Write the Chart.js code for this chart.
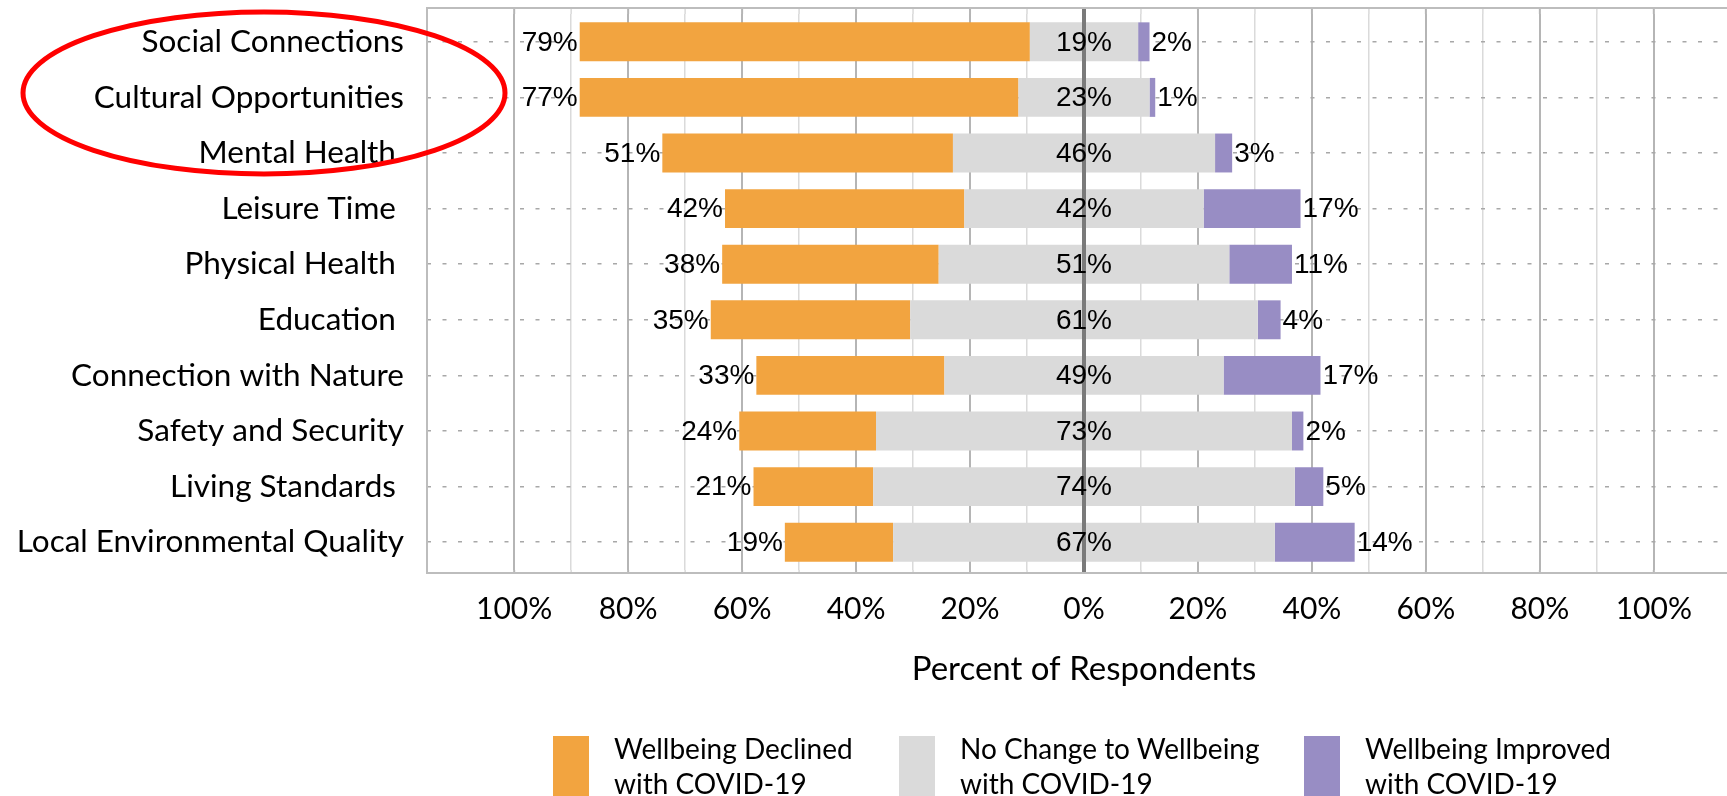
<!DOCTYPE html>
<html>
<head>
<meta charset="utf-8">
<script src="https://cdn.jsdelivr.net/npm/chart.js@4.4.0/dist/chart.umd.min.js"></script>
<style>
	html, body { margin: 0; padding: 0; background: #fff; overflow: hidden; }
	#wrap { position: relative; width: 1748px; height: 796px; }
	.swatch { position: absolute; top: 736px; width: 36px; height: 62px; }
	.legendText { position: absolute; top: 731px; font-family: Lato, sans-serif; font-size: 28px; line-height: 35px; color: #000; white-space: nowrap; }
</style>
</head>
<body>
<div id="wrap">
	<canvas id="wellbeingChart"></canvas>
	<div id="legend"></div>
</div>
<script>
const categories = ['Social Connections', 'Cultural Opportunities', 'Mental Health ', 'Leisure Time ', 'Physical Health ', 'Education ', 'Connection with Nature', 'Safety and Security', 'Living Standards ', 'Local Environmental Quality']
const declined = [79, 77, 51, 42, 38, 35, 33, 24, 21, 19]
const noChange = [19, 23, 46, 42, 51, 61, 49, 73, 74, 67]
const improved = [2, 1, 3, 17, 11, 4, 17, 2, 5, 14]

const seriesNames = [['Wellbeing Declined', 'with COVID-19'], ['No Change to Wellbeing', 'with COVID-19'], ['Wellbeing Improved', 'with COVID-19']]
const seriesColors = ['#f2a440', '#dadada', '#988dc4']

const gridValues = [-100, -90, -80, -70, -60, -50, -40, -30, -20, -10, 0, 10, 20, 30, 40, 50, 60, 70, 80, 90, 100]
const axisTickValues = [-100, -80, -60, -40, -20, 0, 20, 40, 60, 80, 100]
const axisTickLabels = ['100%', '80%', '60%', '40%', '20%', '0%', '20%', '40%', '60%', '80%', '100%']

const gridColor = v => v === 0 ? '#7a7a7a' : (v % 20 === 0 ? '#b5b5b5' : '#dadada')
const gridWidth = v => v === 0 ? 4 : (v % 20 === 0 ? 2 : 1.5)

// the frame sits a little outside the category band, like the original
const frameAndCircle = {
	id: 'frameAndCircle',
	beforeDatasetsDraw(chart) {
		const { ctx, chartArea } = chart
		const x = chart.scales.x
		const top = chartArea.top - 6
		const bottom = chartArea.bottom + 3
		ctx.save()
		gridValues.forEach(v => {
			const px = x.getPixelForValue(v)
			ctx.strokeStyle = gridColor(v)
			ctx.lineWidth = gridWidth(v)
			ctx.beginPath()
			ctx.moveTo(px, top)
			ctx.lineTo(px, chartArea.top)
			ctx.moveTo(px, chartArea.bottom)
			ctx.lineTo(px, bottom)
			ctx.stroke()
		})
		ctx.strokeStyle = '#bdbdbd'
		ctx.lineWidth = 2
		ctx.strokeRect(chartArea.left, top, chartArea.right - chartArea.left, bottom - top)
		ctx.restore()
	},
	afterDraw(chart) {
		const ctx = chart.ctx
		ctx.save()
		ctx.strokeStyle = '#ff0000'
		ctx.lineWidth = 5
		ctx.beginPath()
		ctx.ellipse(264, 93, 241, 81, 0, 0, Math.PI * 2)
		ctx.stroke()
		ctx.restore()
	}
}

const barLabels = {
	id: 'barLabels',
	afterDatasetsDraw(chart) {
		const ctx = chart.ctx
		const zero = chart.scales.x.getPixelForValue(0)
		const left = chart.getDatasetMeta(1).data
		const right = chart.getDatasetMeta(3).data
		ctx.save()
		ctx.font = '28px "Liberation Sans", Arial, sans-serif'
		ctx.fillStyle = '#000'
		ctx.textBaseline = 'middle'
		categories.forEach((c, i) => {
			const d = left[i]
			const p = right[i]
			ctx.textAlign = 'right'
			ctx.fillText(declined[i] + '%', Math.min(d.x, d.base) - 2, d.y + 1)
			ctx.textAlign = 'center'
			ctx.fillText(noChange[i] + '%', zero, d.y + 1)
			ctx.textAlign = 'left'
			ctx.fillText(improved[i] + '%', Math.max(p.x, p.base) + 2, p.y + 1)
		})
		ctx.restore()
	}
}

const ctx = document.getElementById('wellbeingChart')
const chart = new Chart(ctx, {
	type: 'bar',
	data: {
		labels: categories,
		datasets: [
			{ label: 'No Change (left half)', data: noChange.map(v => -v / 2), backgroundColor: seriesColors[1] },
			{ label: 'Wellbeing Declined with COVID-19', data: declined.map(v => -v), backgroundColor: seriesColors[0] },
			{ label: 'No Change (right half)', data: noChange.map(v => v / 2), backgroundColor: seriesColors[1] },
			{ label: 'Wellbeing Improved with COVID-19', data: improved, backgroundColor: seriesColors[2] }
		]
	},
	options: {
		indexAxis: 'y',
		responsive: true,
		maintainAspectRatio: false,
		animation: false,
		devicePixelRatio: 1,
		barPercentage: 0.7,
		categoryPercentage: 1,
		layout: { padding: { top: 14, right: 7, left: 0, bottom: 0 } },
		plugins: {
			legend: { display: false },
			tooltip: { enabled: false }
		},
		scales: {
			x: {
				stacked: true,
				min: -115.3,
				max: 115.3,
				afterBuildTicks(scale) {
					scale.ticks = gridValues.map(v => ({ value: v }))
				},
				afterFit(scale) {
					scale.height = 226
					scale.paddingLeft = 0
					scale.paddingRight = 0
				},
				ticks: {
					autoSkip: false,
					maxRotation: 0,
					padding: 21,
					color: '#000',
					font: { family: 'Lato', size: 30 },
					callback: function (value) {
						const idx = axisTickValues.indexOf(value)
						return idx >= 0 ? axisTickLabels[idx] : ''
					}
				},
				grid: {
					drawTicks: false,
					color: c => gridColor(c.tick.value),
					lineWidth: c => gridWidth(c.tick.value)
				},
				border: { display: false },
				title: {
					display: true,
					text: 'Percent of Respondents',
					color: '#000',
					font: { family: 'Lato', size: 33 },
					padding: { top: 0, bottom: 107 }
				}
			},
			y: {
				stacked: true,
				afterFit(scale) {
					scale.width = 427
					scale.paddingTop = 0
					scale.paddingBottom = 0
				},
				ticks: {
					padding: 23,
					color: '#000',
					font: { family: 'Lato', size: 31.5 }
				},
				grid: {
					offset: false,
					drawTicks: false,
					color: '#a8a8a8',
					lineWidth: 1.5
				},
				border: { display: false, dash: [4, 11.5] }
			}
		}
	},
	plugins: [frameAndCircle, barLabels]
})

// legend, two lines per entry like the original
const legendLeft = [553, 899, 1304]
const legend = document.getElementById('legend')
seriesNames.forEach((name, i) => {
	const sw = document.createElement('div')
	sw.className = 'swatch'
	sw.style.left = legendLeft[i] + 'px'
	sw.style.background = seriesColors[i]
	legend.appendChild(sw)
	const tx = document.createElement('div')
	tx.className = 'legendText'
	tx.style.left = (legendLeft[i] + 61) + 'px'
	tx.innerHTML = name.join('<br>')
	legend.appendChild(tx)
})
</script>
</body>
</html>
